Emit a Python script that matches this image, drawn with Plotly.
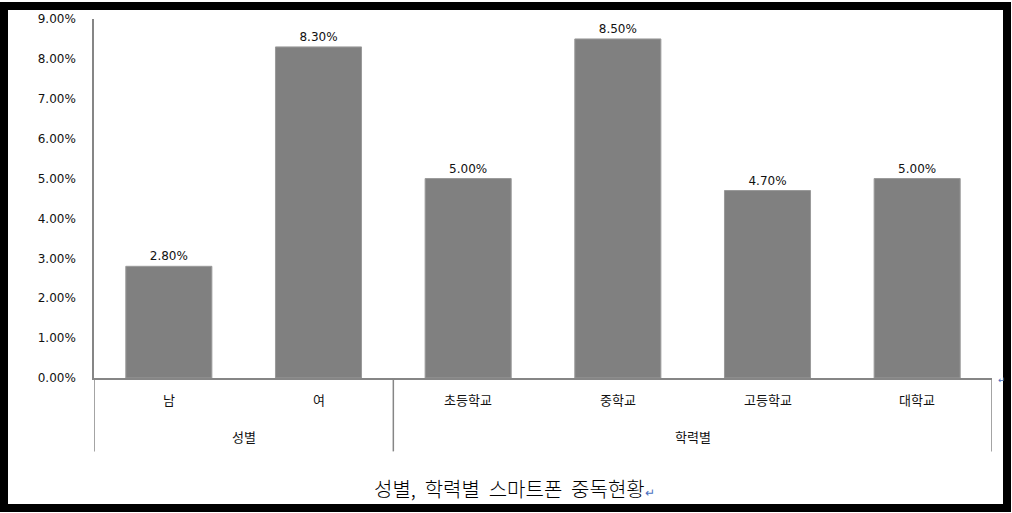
import plotly.graph_objects as go

groups = ["성별", "성별", "학력별", "학력별", "학력별", "학력별"]
categories = ["남", "여", "초등학교", "중학교", "고등학교", "대학교"]
rates = [0.028, 0.083, 0.050, 0.085, 0.047, 0.050]
group_names = ["성별", "학력별"]
group_spans = [(0, 1), (2, 5)]
caption_words = ["성별,", "학력별", "스마트폰", "중독현황"]

W, H = 1012, 513
L, R, T, B = 94, 20, 16, 135
pw, ph = W - L - R, H - T - B


def px_x(x):
    return (x - L) / pw


def px_y(y):
    return (H - B - y) / ph


num_font = dict(family="DejaVu Sans", size=12, color="#111111")
kr_font = dict(family="Noto Sans CJK KR", size=13, color="#111111")

fig = go.Figure(go.Bar(
    x=categories, y=rates,
    marker=dict(color="#808080", line=dict(color="#9a9a9a", width=1)),
    text=[f"{v:.2%}" for v in rates], textposition="outside",
    textfont=num_font, cliponaxis=False, width=0.575,
))

shapes = []
# group dividers below the axis
for xv in [-0.5, 1.5, 5.5]:
    shapes.append(dict(type="line", xref="x", yref="paper", x0=xv, x1=xv,
                       y0=0, y1=px_y(452), line=dict(color="#868686", width=1.5)))
# outer black frame
shapes.append(dict(type="rect", xref="paper", yref="paper",
                   x0=px_x(4), x1=px_x(1007), y0=px_y(3), y1=px_y(509),
                   line=dict(color="black", width=8), layer="below"))

annotations = []
for c in categories:
    annotations.append(dict(x=c, y=px_y(400), xref="x", yref="paper", text=c,
                            showarrow=False, font=kr_font, yanchor="middle"))
for name, (a, b) in zip(group_names, group_spans):
    annotations.append(dict(x=(a + b) / 2, y=px_y(437), xref="x", yref="paper", text=name,
                            showarrow=False, font=kr_font, yanchor="middle"))
annotations.append(dict(x=px_x(514), y=px_y(489), xref="paper", yref="paper",
                        text="&nbsp;&nbsp;".join(caption_words)
                        + "<span style='font-size:12px;color:#4a6fc0'>↵</span>",
                        showarrow=False, yanchor="middle",
                        font=dict(family="Noto Sans CJK KR", size=20, color="black", weight=300)))
annotations.append(dict(x=px_x(1008), y=px_y(380), xref="paper", yref="paper", text="↵",
                        showarrow=False, yanchor="middle",
                        font=dict(family="DejaVu Sans", size=9, color="#4a6fc0")))

fig.update_layout(
    width=W, height=H,
    margin=dict(l=L, r=R, t=T, b=B),
    paper_bgcolor="white", plot_bgcolor="white",
    showlegend=False,
    bargap=0.425,
    shapes=shapes, annotations=annotations,
    xaxis=dict(showticklabels=False, showline=True, linecolor="#868686", linewidth=1.5,
               showgrid=False, ticks="", range=[-0.5, 5.5]),
    yaxis=dict(range=[0, 0.09], dtick=0.01, tickformat=".2%", showgrid=False,
               zeroline=False, showline=True, linecolor="#868686", linewidth=1.5,
               ticks="", tickfont=num_font, ticklabelstandoff=14),
)

# the page body has a default margin; drop it so the frame sits at the window edge
fig.write_html("out.html", config={"displayModeBar": False},
               post_script="document.body.style.margin='0px';document.body.style.overflow='hidden';")
